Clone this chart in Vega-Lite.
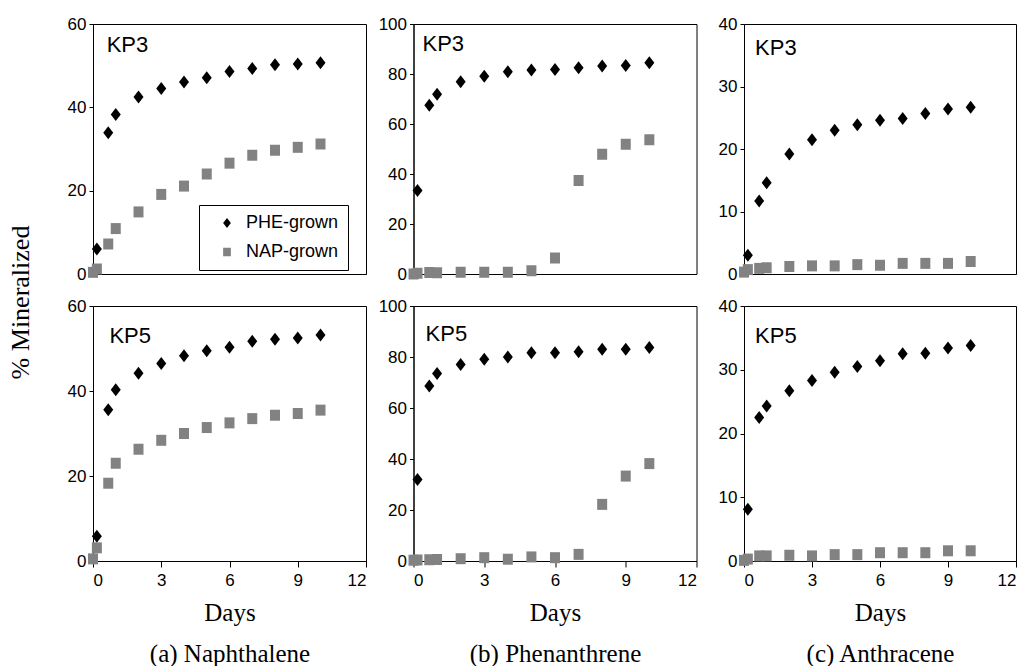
{
"$schema": "https://vega.github.io/schema/vega-lite/v6.json",
"padding": {"left": 7, "top": 14, "right": 4, "bottom": 0},
"background": "white",
"datasets": {"d": [
{"c":"a","s":"KP3","g":"PHE-grown","day":0.17,"pct":6.0},{"c":"a","s":"KP3","g":"PHE-grown","day":0.67,"pct":33.9},{"c":"a","s":"KP3","g":"PHE-grown","day":1,"pct":38.3},{"c":"a","s":"KP3","g":"PHE-grown","day":2,"pct":42.5},{"c":"a","s":"KP3","g":"PHE-grown","day":3,"pct":44.5},{"c":"a","s":"KP3","g":"PHE-grown","day":4,"pct":46.1},{"c":"a","s":"KP3","g":"PHE-grown","day":5,"pct":47.1},{"c":"a","s":"KP3","g":"PHE-grown","day":6,"pct":48.6},{"c":"a","s":"KP3","g":"PHE-grown","day":7,"pct":49.3},{"c":"a","s":"KP3","g":"PHE-grown","day":8,"pct":50.2},{"c":"a","s":"KP3","g":"PHE-grown","day":9,"pct":50.4},{"c":"a","s":"KP3","g":"PHE-grown","day":10,"pct":50.7},
{"c":"a","s":"KP3","g":"NAP-grown","day":0,"pct":0.4},{"c":"a","s":"KP3","g":"NAP-grown","day":0.17,"pct":1.2},{"c":"a","s":"KP3","g":"NAP-grown","day":0.67,"pct":7.2},{"c":"a","s":"KP3","g":"NAP-grown","day":1,"pct":10.9},{"c":"a","s":"KP3","g":"NAP-grown","day":2,"pct":14.9},{"c":"a","s":"KP3","g":"NAP-grown","day":3,"pct":19.1},{"c":"a","s":"KP3","g":"NAP-grown","day":4,"pct":21.1},{"c":"a","s":"KP3","g":"NAP-grown","day":5,"pct":24.0},{"c":"a","s":"KP3","g":"NAP-grown","day":6,"pct":26.6},{"c":"a","s":"KP3","g":"NAP-grown","day":7,"pct":28.5},{"c":"a","s":"KP3","g":"NAP-grown","day":8,"pct":29.7},{"c":"a","s":"KP3","g":"NAP-grown","day":9,"pct":30.4},{"c":"a","s":"KP3","g":"NAP-grown","day":10,"pct":31.2},
{"c":"a","s":"KP5","g":"PHE-grown","day":0.17,"pct":5.8},{"c":"a","s":"KP5","g":"PHE-grown","day":0.67,"pct":35.6},{"c":"a","s":"KP5","g":"PHE-grown","day":1,"pct":40.3},{"c":"a","s":"KP5","g":"PHE-grown","day":2,"pct":44.2},{"c":"a","s":"KP5","g":"PHE-grown","day":3,"pct":46.5},{"c":"a","s":"KP5","g":"PHE-grown","day":4,"pct":48.3},{"c":"a","s":"KP5","g":"PHE-grown","day":5,"pct":49.5},{"c":"a","s":"KP5","g":"PHE-grown","day":6,"pct":50.3},{"c":"a","s":"KP5","g":"PHE-grown","day":7,"pct":51.7},{"c":"a","s":"KP5","g":"PHE-grown","day":8,"pct":52.2},{"c":"a","s":"KP5","g":"PHE-grown","day":9,"pct":52.5},{"c":"a","s":"KP5","g":"PHE-grown","day":10,"pct":53.2},
{"c":"a","s":"KP5","g":"NAP-grown","day":0,"pct":0.5},{"c":"a","s":"KP5","g":"NAP-grown","day":0.17,"pct":3.1},{"c":"a","s":"KP5","g":"NAP-grown","day":0.67,"pct":18.3},{"c":"a","s":"KP5","g":"NAP-grown","day":1,"pct":23.0},{"c":"a","s":"KP5","g":"NAP-grown","day":2,"pct":26.3},{"c":"a","s":"KP5","g":"NAP-grown","day":3,"pct":28.4},{"c":"a","s":"KP5","g":"NAP-grown","day":4,"pct":30.0},{"c":"a","s":"KP5","g":"NAP-grown","day":5,"pct":31.4},{"c":"a","s":"KP5","g":"NAP-grown","day":6,"pct":32.5},{"c":"a","s":"KP5","g":"NAP-grown","day":7,"pct":33.5},{"c":"a","s":"KP5","g":"NAP-grown","day":8,"pct":34.3},{"c":"a","s":"KP5","g":"NAP-grown","day":9,"pct":34.7},{"c":"a","s":"KP5","g":"NAP-grown","day":10,"pct":35.5},
{"c":"b","s":"KP3","g":"PHE-grown","day":0.17,"pct":33.4},{"c":"b","s":"KP3","g":"PHE-grown","day":0.67,"pct":67.5},{"c":"b","s":"KP3","g":"PHE-grown","day":1,"pct":71.9},{"c":"b","s":"KP3","g":"PHE-grown","day":2,"pct":76.9},{"c":"b","s":"KP3","g":"PHE-grown","day":3,"pct":79.1},{"c":"b","s":"KP3","g":"PHE-grown","day":4,"pct":80.9},{"c":"b","s":"KP3","g":"PHE-grown","day":5,"pct":81.6},{"c":"b","s":"KP3","g":"PHE-grown","day":6,"pct":81.8},{"c":"b","s":"KP3","g":"PHE-grown","day":7,"pct":82.5},{"c":"b","s":"KP3","g":"PHE-grown","day":8,"pct":83.2},{"c":"b","s":"KP3","g":"PHE-grown","day":9,"pct":83.4},{"c":"b","s":"KP3","g":"PHE-grown","day":10,"pct":84.5},
{"c":"b","s":"KP3","g":"NAP-grown","day":0,"pct":0.0},{"c":"b","s":"KP3","g":"NAP-grown","day":0.17,"pct":0.3},{"c":"b","s":"KP3","g":"NAP-grown","day":0.67,"pct":0.6},{"c":"b","s":"KP3","g":"NAP-grown","day":1,"pct":0.5},{"c":"b","s":"KP3","g":"NAP-grown","day":2,"pct":0.7},{"c":"b","s":"KP3","g":"NAP-grown","day":3,"pct":0.7},{"c":"b","s":"KP3","g":"NAP-grown","day":4,"pct":0.7},{"c":"b","s":"KP3","g":"NAP-grown","day":5,"pct":1.3},{"c":"b","s":"KP3","g":"NAP-grown","day":6,"pct":6.4},{"c":"b","s":"KP3","g":"NAP-grown","day":7,"pct":37.4},{"c":"b","s":"KP3","g":"NAP-grown","day":8,"pct":47.9},{"c":"b","s":"KP3","g":"NAP-grown","day":9,"pct":51.9},{"c":"b","s":"KP3","g":"NAP-grown","day":10,"pct":53.7},
{"c":"b","s":"KP5","g":"PHE-grown","day":0.17,"pct":32.0},{"c":"b","s":"KP5","g":"PHE-grown","day":0.67,"pct":68.6},{"c":"b","s":"KP5","g":"PHE-grown","day":1,"pct":73.5},{"c":"b","s":"KP5","g":"PHE-grown","day":2,"pct":77.1},{"c":"b","s":"KP5","g":"PHE-grown","day":3,"pct":79.1},{"c":"b","s":"KP5","g":"PHE-grown","day":4,"pct":80.0},{"c":"b","s":"KP5","g":"PHE-grown","day":5,"pct":81.7},{"c":"b","s":"KP5","g":"PHE-grown","day":6,"pct":81.7},{"c":"b","s":"KP5","g":"PHE-grown","day":7,"pct":82.1},{"c":"b","s":"KP5","g":"PHE-grown","day":8,"pct":83.0},{"c":"b","s":"KP5","g":"PHE-grown","day":9,"pct":83.0},{"c":"b","s":"KP5","g":"PHE-grown","day":10,"pct":83.7},
{"c":"b","s":"KP5","g":"NAP-grown","day":0,"pct":0.3},{"c":"b","s":"KP5","g":"NAP-grown","day":0.17,"pct":0.4},{"c":"b","s":"KP5","g":"NAP-grown","day":0.67,"pct":0.5},{"c":"b","s":"KP5","g":"NAP-grown","day":1,"pct":0.6},{"c":"b","s":"KP5","g":"NAP-grown","day":2,"pct":0.9},{"c":"b","s":"KP5","g":"NAP-grown","day":3,"pct":1.3},{"c":"b","s":"KP5","g":"NAP-grown","day":4,"pct":0.7},{"c":"b","s":"KP5","g":"NAP-grown","day":5,"pct":1.6},{"c":"b","s":"KP5","g":"NAP-grown","day":6,"pct":1.3},{"c":"b","s":"KP5","g":"NAP-grown","day":7,"pct":2.6},{"c":"b","s":"KP5","g":"NAP-grown","day":8,"pct":22.2},{"c":"b","s":"KP5","g":"NAP-grown","day":9,"pct":33.3},{"c":"b","s":"KP5","g":"NAP-grown","day":10,"pct":38.2},
{"c":"c","s":"KP3","g":"PHE-grown","day":0.17,"pct":3.0},{"c":"c","s":"KP3","g":"PHE-grown","day":0.67,"pct":11.7},{"c":"c","s":"KP3","g":"PHE-grown","day":1,"pct":14.6},{"c":"c","s":"KP3","g":"PHE-grown","day":2,"pct":19.2},{"c":"c","s":"KP3","g":"PHE-grown","day":3,"pct":21.5},{"c":"c","s":"KP3","g":"PHE-grown","day":4,"pct":23.0},{"c":"c","s":"KP3","g":"PHE-grown","day":5,"pct":23.9},{"c":"c","s":"KP3","g":"PHE-grown","day":6,"pct":24.6},{"c":"c","s":"KP3","g":"PHE-grown","day":7,"pct":24.9},{"c":"c","s":"KP3","g":"PHE-grown","day":8,"pct":25.7},{"c":"c","s":"KP3","g":"PHE-grown","day":9,"pct":26.4},{"c":"c","s":"KP3","g":"PHE-grown","day":10,"pct":26.7},
{"c":"c","s":"KP3","g":"NAP-grown","day":0,"pct":0.3},{"c":"c","s":"KP3","g":"NAP-grown","day":0.17,"pct":0.7},{"c":"c","s":"KP3","g":"NAP-grown","day":0.67,"pct":0.9},{"c":"c","s":"KP3","g":"NAP-grown","day":1,"pct":1.0},{"c":"c","s":"KP3","g":"NAP-grown","day":2,"pct":1.2},{"c":"c","s":"KP3","g":"NAP-grown","day":3,"pct":1.3},{"c":"c","s":"KP3","g":"NAP-grown","day":4,"pct":1.3},{"c":"c","s":"KP3","g":"NAP-grown","day":5,"pct":1.5},{"c":"c","s":"KP3","g":"NAP-grown","day":6,"pct":1.4},{"c":"c","s":"KP3","g":"NAP-grown","day":7,"pct":1.7},{"c":"c","s":"KP3","g":"NAP-grown","day":8,"pct":1.7},{"c":"c","s":"KP3","g":"NAP-grown","day":9,"pct":1.7},{"c":"c","s":"KP3","g":"NAP-grown","day":10,"pct":2.0},
{"c":"c","s":"KP5","g":"PHE-grown","day":0.17,"pct":8.1},{"c":"c","s":"KP5","g":"PHE-grown","day":0.67,"pct":22.5},{"c":"c","s":"KP5","g":"PHE-grown","day":1,"pct":24.3},{"c":"c","s":"KP5","g":"PHE-grown","day":2,"pct":26.7},{"c":"c","s":"KP5","g":"PHE-grown","day":3,"pct":28.3},{"c":"c","s":"KP5","g":"PHE-grown","day":4,"pct":29.6},{"c":"c","s":"KP5","g":"PHE-grown","day":5,"pct":30.5},{"c":"c","s":"KP5","g":"PHE-grown","day":6,"pct":31.4},{"c":"c","s":"KP5","g":"PHE-grown","day":7,"pct":32.5},{"c":"c","s":"KP5","g":"PHE-grown","day":8,"pct":32.6},{"c":"c","s":"KP5","g":"PHE-grown","day":9,"pct":33.4},{"c":"c","s":"KP5","g":"PHE-grown","day":10,"pct":33.8},
{"c":"c","s":"KP5","g":"NAP-grown","day":0,"pct":0.1},{"c":"c","s":"KP5","g":"NAP-grown","day":0.17,"pct":0.3},{"c":"c","s":"KP5","g":"NAP-grown","day":0.67,"pct":0.8},{"c":"c","s":"KP5","g":"NAP-grown","day":1,"pct":0.8},{"c":"c","s":"KP5","g":"NAP-grown","day":2,"pct":0.9},{"c":"c","s":"KP5","g":"NAP-grown","day":3,"pct":0.8},{"c":"c","s":"KP5","g":"NAP-grown","day":4,"pct":1.0},{"c":"c","s":"KP5","g":"NAP-grown","day":5,"pct":1.0},{"c":"c","s":"KP5","g":"NAP-grown","day":6,"pct":1.3},{"c":"c","s":"KP5","g":"NAP-grown","day":7,"pct":1.3},{"c":"c","s":"KP5","g":"NAP-grown","day":8,"pct":1.3},{"c":"c","s":"KP5","g":"NAP-grown","day":9,"pct":1.6},{"c":"c","s":"KP5","g":"NAP-grown","day":10,"pct":1.6}
]},
"data": {"name": "d"},
"title": {"text": "% Mineralized", "orient": "left", "font": "Liberation Serif", "fontSize": 26, "fontWeight": "normal", "color": "black", "anchor": "middle", "offset": 33, "dx": 38},
"columns": 3,
"spacing": {"row": 32, "column": 47.5},
"bounds": "flush",
"resolve": {"scale": {"color": "independent", "shape": "independent"}},
"concat": [
   {"width": 273, "height": 250, "layer": [
     {"transform": [{"filter": "datum.c=='a' && datum.s=='KP3'"}], "mark": {"type": "point", "filled": true, "opacity": 1, "size": 100},
      "encoding": {
       "x": {"field": "day", "type": "quantitative", "scale": {"domain": [0, 12], "nice": false}, "axis": {"values": [0,3,6,9,12], "labels": false, "ticks": false, "title": null}},
       "y": {"field": "pct", "type": "quantitative", "scale": {"domain": [0, 60], "nice": false}, "axis": {"values": [0,20,40,60], "title": null}},
       "color": {"field": "g", "type": "nominal", "scale": {"domain": ["PHE-grown","NAP-grown"], "range": ["#000000","#828282"]}, "legend": {"orient": "none", "legendX": 106, "legendY": 181, "title": null, "strokeColor": "black", "fillColor": "white", "padding": 9, "symbolOffset": 10, "labelOffset": 10, "rowPadding": 11, "labelFont": "Liberation Sans", "labelFontSize": 18, "labelColor": "black", "symbolSize": 60, "symbolStrokeWidth": 0, "labelExpr": "datum.label + '    '"}},
       "shape": {"field": "g", "type": "nominal", "scale": {"domain": ["PHE-grown","NAP-grown"], "range": ["M0,-1.3L1,0L0,1.3L-1,0Z","M-1,-1.1L1,-1.1L1,1.1L-1,1.1Z"]}, "legend": {"orient": "none", "legendX": 106, "legendY": 181, "title": null, "strokeColor": "black", "fillColor": "white", "padding": 9, "symbolOffset": 10, "labelOffset": 10, "rowPadding": 11, "labelFont": "Liberation Sans", "labelFontSize": 18, "labelColor": "black", "symbolSize": 60, "symbolStrokeWidth": 0, "labelExpr": "datum.label + '    '"}}
      }},
     {"data": {"values": [{"t": "KP3"}]}, "mark": {"type": "text", "align": "left", "baseline": "alphabetic", "font": "Liberation Sans", "fontSize": 22, "color": "black"},
      "encoding": {"text": {"field": "t"}, "x": {"datum": 0.6}, "y": {"datum": 53.4}}}
   ]},
   {"width": 283, "height": 250, "layer": [
     {"transform": [{"filter": "datum.c=='b' && datum.s=='KP3'"}], "mark": {"type": "point", "filled": true, "opacity": 1, "size": 100},
      "encoding": {
       "x": {"field": "day", "type": "quantitative", "scale": {"domain": [0, 12], "nice": false}, "axis": {"values": [0,3,6,9,12], "labels": false, "ticks": false, "title": null}},
       "y": {"field": "pct", "type": "quantitative", "scale": {"domain": [0, 100], "nice": false}, "axis": {"values": [0,20,40,60,80,100], "title": null}},
       "color": {"field": "g", "type": "nominal", "scale": {"domain": ["PHE-grown","NAP-grown"], "range": ["#000000","#828282"]}, "legend": null},
       "shape": {"field": "g", "type": "nominal", "scale": {"domain": ["PHE-grown","NAP-grown"], "range": ["M0,-1.3L1,0L0,1.3L-1,0Z","M-1,-1.1L1,-1.1L1,1.1L-1,1.1Z"]}, "legend": null}
      }},
     {"data": {"values": [{"t": "KP3"}]}, "mark": {"type": "text", "align": "left", "baseline": "alphabetic", "font": "Liberation Sans", "fontSize": 22, "color": "black"},
      "encoding": {"text": {"field": "t"}, "x": {"datum": 0.38}, "y": {"datum": 89.2}}}
   ]},
   {"width": 272, "height": 250, "layer": [
     {"transform": [{"filter": "datum.c=='c' && datum.s=='KP3'"}], "mark": {"type": "point", "filled": true, "opacity": 1, "size": 100},
      "encoding": {
       "x": {"field": "day", "type": "quantitative", "scale": {"domain": [0, 12], "nice": false}, "axis": {"values": [0,3,6,9,12], "labels": false, "ticks": false, "title": null}},
       "y": {"field": "pct", "type": "quantitative", "scale": {"domain": [0, 40], "nice": false}, "axis": {"values": [0,10,20,30,40], "title": null}},
       "color": {"field": "g", "type": "nominal", "scale": {"domain": ["PHE-grown","NAP-grown"], "range": ["#000000","#828282"]}, "legend": null},
       "shape": {"field": "g", "type": "nominal", "scale": {"domain": ["PHE-grown","NAP-grown"], "range": ["M0,-1.3L1,0L0,1.3L-1,0Z","M-1,-1.1L1,-1.1L1,1.1L-1,1.1Z"]}, "legend": null}
      }},
     {"data": {"values": [{"t": "KP3"}]}, "mark": {"type": "text", "align": "left", "baseline": "alphabetic", "font": "Liberation Sans", "fontSize": 22, "color": "black"},
      "encoding": {"text": {"field": "t"}, "x": {"datum": 0.49}, "y": {"datum": 35.0}}}
   ]},
   {"width": 273, "height": 255, "layer": [
     {"transform": [{"filter": "datum.c=='a' && datum.s=='KP5'"}], "mark": {"type": "point", "filled": true, "opacity": 1, "size": 100},
      "encoding": {
       "x": {"field": "day", "type": "quantitative", "scale": {"domain": [0, 12], "nice": false}, "axis": {"values": [0,3,6,9,12], "title": ["Days", "(a) Naphthalene"]}},
       "y": {"field": "pct", "type": "quantitative", "scale": {"domain": [0, 60], "nice": false}, "axis": {"values": [0,20,40,60], "title": null}},
       "color": {"field": "g", "type": "nominal", "scale": {"domain": ["PHE-grown","NAP-grown"], "range": ["#000000","#828282"]}, "legend": null},
       "shape": {"field": "g", "type": "nominal", "scale": {"domain": ["PHE-grown","NAP-grown"], "range": ["M0,-1.3L1,0L0,1.3L-1,0Z","M-1,-1.1L1,-1.1L1,1.1L-1,1.1Z"]}, "legend": null}
      }},
     {"data": {"values": [{"t": "KP5"}]}, "mark": {"type": "text", "align": "left", "baseline": "alphabetic", "font": "Liberation Sans", "fontSize": 22, "color": "black"},
      "encoding": {"text": {"field": "t"}, "x": {"datum": 0.72}, "y": {"datum": 51.3}}}
   ]},
   {"width": 283, "height": 255, "layer": [
     {"transform": [{"filter": "datum.c=='b' && datum.s=='KP5'"}], "mark": {"type": "point", "filled": true, "opacity": 1, "size": 100},
      "encoding": {
       "x": {"field": "day", "type": "quantitative", "scale": {"domain": [0, 12], "nice": false}, "axis": {"values": [0,3,6,9,12], "title": ["Days", "(b) Phenanthrene"]}},
       "y": {"field": "pct", "type": "quantitative", "scale": {"domain": [0, 100], "nice": false}, "axis": {"values": [0,20,40,60,80,100], "title": null}},
       "color": {"field": "g", "type": "nominal", "scale": {"domain": ["PHE-grown","NAP-grown"], "range": ["#000000","#828282"]}, "legend": null},
       "shape": {"field": "g", "type": "nominal", "scale": {"domain": ["PHE-grown","NAP-grown"], "range": ["M0,-1.3L1,0L0,1.3L-1,0Z","M-1,-1.1L1,-1.1L1,1.1L-1,1.1Z"]}, "legend": null}
      }},
     {"data": {"values": [{"t": "KP5"}]}, "mark": {"type": "text", "align": "left", "baseline": "alphabetic", "font": "Liberation Sans", "fontSize": 22, "color": "black"},
      "encoding": {"text": {"field": "t"}, "x": {"datum": 0.51}, "y": {"datum": 86.3}}}
   ]},
   {"width": 272, "height": 255, "layer": [
     {"transform": [{"filter": "datum.c=='c' && datum.s=='KP5'"}], "mark": {"type": "point", "filled": true, "opacity": 1, "size": 100},
      "encoding": {
       "x": {"field": "day", "type": "quantitative", "scale": {"domain": [0, 12], "nice": false}, "axis": {"values": [0,3,6,9,12], "title": ["Days", "(c) Anthracene"]}},
       "y": {"field": "pct", "type": "quantitative", "scale": {"domain": [0, 40], "nice": false}, "axis": {"values": [0,10,20,30,40], "title": null}},
       "color": {"field": "g", "type": "nominal", "scale": {"domain": ["PHE-grown","NAP-grown"], "range": ["#000000","#828282"]}, "legend": null},
       "shape": {"field": "g", "type": "nominal", "scale": {"domain": ["PHE-grown","NAP-grown"], "range": ["M0,-1.3L1,0L0,1.3L-1,0Z","M-1,-1.1L1,-1.1L1,1.1L-1,1.1Z"]}, "legend": null}
      }},
     {"data": {"values": [{"t": "KP5"}]}, "mark": {"type": "text", "align": "left", "baseline": "alphabetic", "font": "Liberation Sans", "fontSize": 22, "color": "black"},
      "encoding": {"text": {"field": "t"}, "x": {"datum": 0.49}, "y": {"datum": 34.2}}}
   ]}
],
"config": {
 "font": "Liberation Sans",
 "view": {"stroke": "black", "strokeWidth": 1},
 "axis": {"domainColor": "black", "domainWidth": 1, "tickColor": "black", "labelColor": "black", "labelFont": "Liberation Sans", "labelFontSize": 17, "grid": false, "tickSize": 4, "labelPadding": 3, "titleColor": "black"},
 "axisX": {"tickSize": 6, "labelPadding": 5, "titleFont": "Liberation Serif", "titleFontSize": 25, "titleFontWeight": "normal", "titlePadding": 12, "titleLineHeight": 41}
}
}
